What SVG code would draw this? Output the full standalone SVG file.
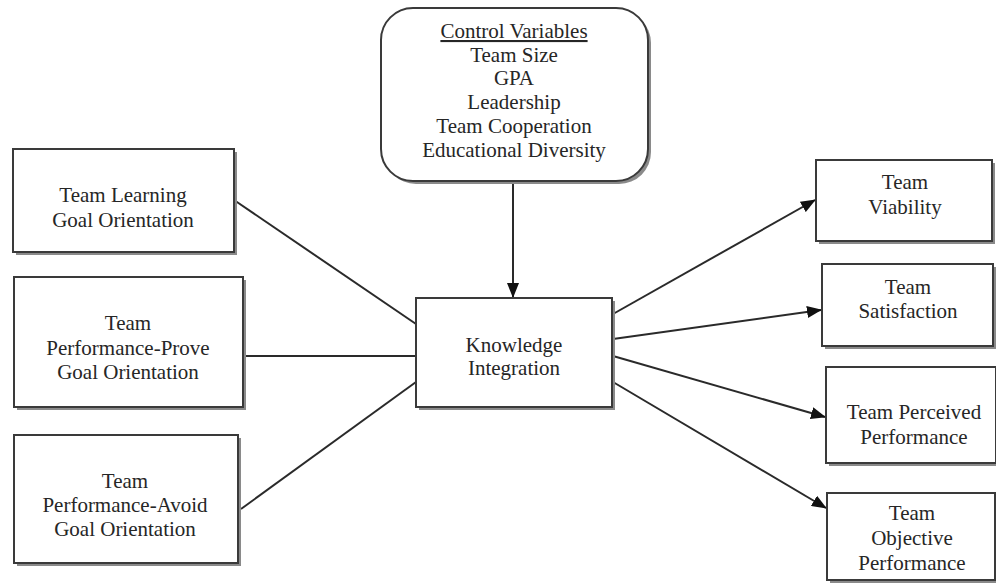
<svg xmlns="http://www.w3.org/2000/svg" width="996" height="586" viewBox="0 0 996 586">
<style>
.box{fill:#fff;stroke:#3a3a3a;stroke-width:2}
.sh{fill:#8a8a8a}
text{font-family:"Liberation Serif","Times New Roman",serif;font-size:21px;fill:#262626;text-anchor:middle}
.ln{stroke:#2a2a2a;stroke-width:2;fill:none}
</style>
<defs>
<marker id="ah" markerUnits="userSpaceOnUse" markerWidth="15" markerHeight="12" refX="14" refY="6" orient="auto">
<path d="M0,0 L15,6 L0,12 z" fill="#111"/>
</marker>
</defs>
<rect width="996" height="586" fill="#fff"/>
<g id="connectors">
<line class="ln" x1="513" y1="181" x2="513" y2="297" marker-end="url(#ah)"/>
<line class="ln" x1="234" y1="200" x2="416" y2="324"/>
<line class="ln" x1="243" y1="356" x2="416" y2="356"/>
<line class="ln" x1="241" y1="509" x2="416" y2="382"/>
<line class="ln" x1="613" y1="314" x2="815" y2="200" marker-end="url(#ah)"/>
<line class="ln" x1="613" y1="339" x2="821" y2="310" marker-end="url(#ah)"/>
<line class="ln" x1="613" y1="356" x2="825" y2="417" marker-end="url(#ah)"/>
<line class="ln" x1="613" y1="382" x2="826" y2="508" marker-end="url(#ah)"/>
</g>
<g id="control">
<rect class="sh" x="384" y="11" width="267" height="173" rx="32"/>
<rect class="box" x="381" y="8" width="267" height="173" rx="32"/>
<text x="514" y="38" text-decoration="underline">Control Variables</text>
<text x="514" y="62">Team Size</text>
<text x="514" y="85">GPA</text>
<text x="514" y="109">Leadership</text>
<text x="514" y="133">Team Cooperation</text>
<text x="514" y="157">Educational Diversity</text>
</g>
<g id="ki">
<rect class="sh" x="419" y="301" width="196" height="109"/>
<rect class="box" x="416" y="298" width="196" height="109"/>
<text x="514" y="352">Knowledge</text>
<text x="514" y="375">Integration</text>
</g>
<g id="learning">
<rect class="sh" x="16" y="152" width="221" height="103"/>
<rect class="box" x="13" y="149" width="221" height="103"/>
<text x="123" y="202">Team Learning</text>
<text x="123" y="227">Goal Orientation</text>
</g>
<g id="prove">
<rect class="sh" x="17" y="280" width="229" height="130"/>
<rect class="box" x="14" y="277" width="229" height="130"/>
<text x="128" y="330">Team</text>
<text x="128" y="355">Performance-Prove</text>
<text x="128" y="379">Goal Orientation</text>
</g>
<g id="avoid">
<rect class="sh" x="17" y="438" width="224" height="128"/>
<rect class="box" x="14" y="435" width="224" height="128"/>
<text x="125" y="488">Team</text>
<text x="125" y="512">Performance-Avoid</text>
<text x="125" y="536">Goal Orientation</text>
</g>
<g id="viability">
<rect class="sh" x="819" y="163" width="176" height="81"/>
<rect class="box" x="816" y="160" width="176" height="81"/>
<text x="905" y="189">Team</text>
<text x="905" y="214">Viability</text>
</g>
<g id="satisfaction">
<rect class="sh" x="825" y="267" width="171" height="82"/>
<rect class="box" x="822" y="264" width="171" height="82"/>
<text x="908" y="294">Team</text>
<text x="908" y="318">Satisfaction</text>
</g>
<g id="perceived">
<rect class="sh" x="829" y="370" width="170" height="96"/>
<rect class="box" x="826" y="367" width="170" height="96"/>
<text x="914" y="419">Team Perceived</text>
<text x="914" y="444">Performance</text>
</g>
<g id="objective">
<rect class="sh" x="830" y="496" width="170" height="87"/>
<rect class="box" x="827" y="493" width="168" height="87"/>
<text x="912" y="520">Team</text>
<text x="912" y="545">Objective</text>
<text x="912" y="570">Performance</text>
</g>
</svg>
